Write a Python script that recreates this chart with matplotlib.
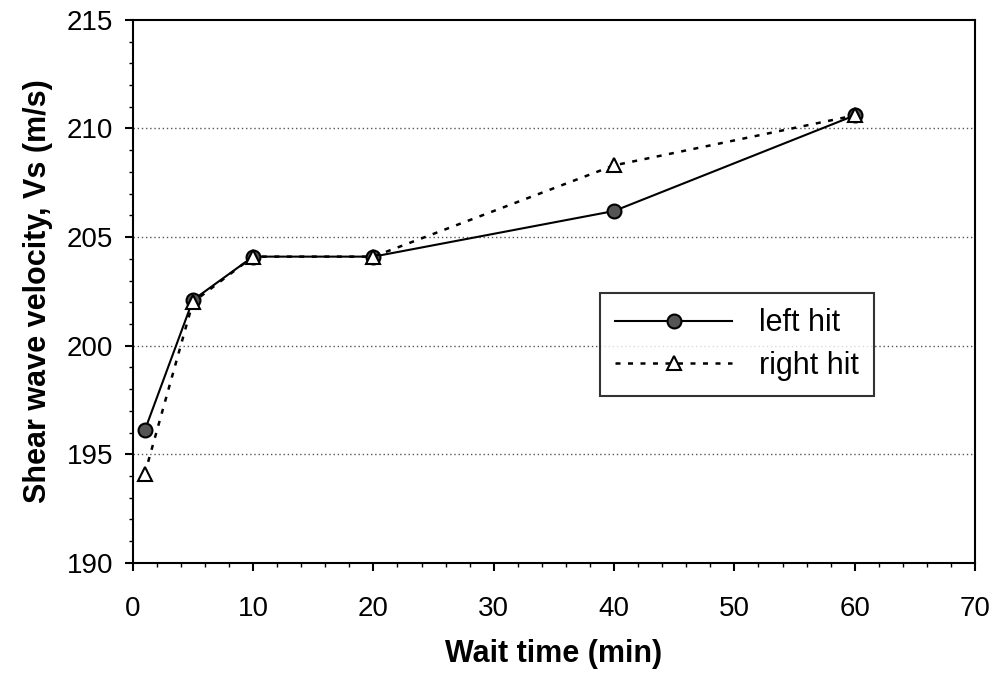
import matplotlib
matplotlib.use("Agg")
import matplotlib.pyplot as plt
from matplotlib.ticker import MultipleLocator

plt.rcParams['font.family'] = ['Liberation Sans', 'DejaVu Sans']

# data
wait_time = [1, 5, 10, 20, 40, 60]
left_hit = [196.1, 202.1, 204.1, 204.1, 206.2, 210.6]
right_hit = [194.1, 202.0, 204.1, 204.1, 208.3, 210.6]

fig = plt.figure(figsize=(9.98, 6.84), dpi=100)
ax = fig.add_axes([0.133, 0.177, 0.844, 0.794])

# dotted horizontal grid
for yv in [195, 200, 205, 210]:
    ax.axhline(yv, color='#555555', linestyle=(0, (1, 2)), linewidth=1.0, zorder=0)

ax.plot(wait_time, left_hit, color='black', linestyle='-', linewidth=1.5,
        marker='o', markersize=10, markerfacecolor='#555555',
        markeredgecolor='black', markeredgewidth=1.5, label='left hit')
ax.plot(wait_time, right_hit, color='black', linestyle=(0, (2, 3)), linewidth=1.8,
        marker='^', markersize=10, markerfacecolor='white',
        markeredgecolor='black', markeredgewidth=1.5, label='right hit')

ax.set_xlim(0, 70)
ax.set_ylim(190, 215)
ax.xaxis.set_major_locator(MultipleLocator(10))
ax.xaxis.set_minor_locator(MultipleLocator(2))
ax.yaxis.set_major_locator(MultipleLocator(5))
ax.yaxis.set_minor_locator(MultipleLocator(1))
ax.tick_params(which='major', direction='out', length=6, width=1.5, labelsize=20)
ax.tick_params(axis='x', which='major', pad=18)
ax.tick_params(axis='y', which='major', pad=8)
ax.tick_params(which='minor', direction='out', length=3, width=1)
for s in ax.spines.values():
    s.set_linewidth(1.5)

ax.set_xlabel('Wait time (min)', fontsize=22, fontweight='bold', labelpad=12)
ax.set_ylabel('Shear wave velocity, Vs (m/s)', fontsize=22, fontweight='bold', labelpad=10)

leg = ax.legend(loc='upper left', bbox_to_anchor=(0.555, 0.497), fontsize=22,
                frameon=True, fancybox=False, edgecolor='black',
                handlelength=3.8, handletextpad=0.9, borderpad=0.5,
                labelspacing=0.4, borderaxespad=0)
leg.get_frame().set_linewidth(1.5)

fig.savefig('out.png', dpi=100)
